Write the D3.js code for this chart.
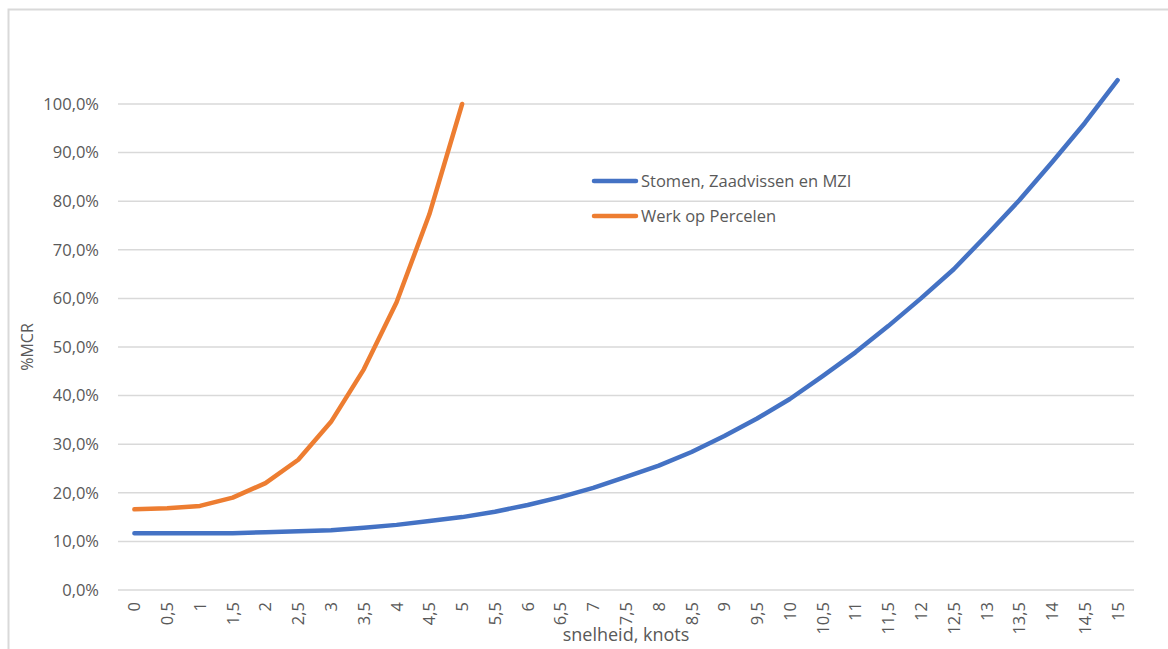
<!DOCTYPE html>
<html>
<head>
  <meta charset="utf-8">
  <title>%MCR per snelheid</title>
  <script src="https://d3js.org/d3.v7.min.js"></script>
  <style>
    body { margin: 0; background: #fff; }
    text { font-family: "Open Sans", "Noto Sans", sans-serif; fill: #595959; }
  </style>
</head>
<body>
<script>
  // data: snelheid (knots) and %MCR as fraction
  var speeds = ["0","0,5","1","1,5","2","2,5","3","3,5","4","4,5","5","5,5","6","6,5","7","7,5",
                "8","8,5","9","9,5","10","10,5","11","11,5","12","12,5","13","13,5","14","14,5","15"];
  var stomen = [0.117,0.117,0.117,0.117,0.119,0.121,0.123,0.128,0.134,0.142,0.150,0.161,0.175,0.191,0.210,0.233,
                0.256,0.284,0.317,0.353,0.393,0.440,0.489,0.543,0.600,0.660,0.730,0.802,0.880,0.961,1.049];
  var werk = [0.166,0.168,0.173,0.190,0.220,0.268,0.346,0.454,0.592,0.773,1.000];
  var seriesNames = ["Stomen, Zaadvissen en MZI", "Werk op Percelen"];
  var seriesColors = ["#4472c4", "#ed7d31"];
  var yTicks = [0,0.1,0.2,0.3,0.4,0.5,0.6,0.7,0.8,0.9,1.0];

  var width = 1168, height = 649;
  var mLeft = 118, mRight = 1134, mTop = 104, mBottom = 590;

  var svg = d3.select("body").append("svg").attr("width", width).attr("height", height);

  // chart frame
  svg.append("path")
    .attr("d", "M8.5," + height + "V9.5H" + width)
    .attr("fill", "none").attr("stroke", "#d9d9d9").attr("stroke-width", 2);

  var x = d3.scalePoint().domain(speeds).range([mLeft, mRight]).padding(0.5);
  var y = d3.scaleLinear().domain([0, 1]).range([mBottom, mTop]);

  // gridlines
  svg.append("g").selectAll("line").data(yTicks).enter().append("line")
    .attr("x1", mLeft).attr("x2", mRight)
    .attr("y1", function(d) { return y(d); }).attr("y2", function(d) { return y(d); })
    .attr("stroke", "#d9d9d9").attr("stroke-width", 1.5);

  // y labels
  var fmt = function(d) { return (d * 100).toFixed(1).replace(".", ",") + "%"; };
  svg.append("g").selectAll("text").data(yTicks).enter().append("text")
    .attr("x", 99).attr("y", function(d) { return y(d); })
    .attr("dy", "0.35em").attr("text-anchor", "end")
    .style("font-size", "16.5px")
    .text(fmt);

  // x labels (rotated)
  svg.append("g").selectAll("text").data(speeds).enter().append("text")
    .attr("transform", function(d) { return "translate(" + (x(d) + 6) + ",602) rotate(-90)"; })
    .attr("text-anchor", "end")
    .style("font-size", "16.5px")
    .text(function(d) { return d; });

  // axis titles
  svg.append("text").attr("x", 626).attr("y", 641).attr("text-anchor", "middle")
    .style("font-size", "18px").text("snelheid, knots");
  svg.append("text").attr("transform", "translate(33,347) rotate(-90)").attr("text-anchor", "middle")
    .style("font-size", "16px").text("%MCR");

  // lines
  var line = d3.line()
    .x(function(d, i) { return x(speeds[i]); })
    .y(function(d) { return y(d); });

  [stomen, werk].forEach(function(s, k) {
    svg.append("path").datum(s)
      .attr("d", line)
      .attr("fill", "none")
      .attr("stroke", seriesColors[k])
      .attr("stroke-width", 4.5)
      .attr("stroke-linejoin", "round")
      .attr("stroke-linecap", "round");
  });

  // legend
  var lg = svg.append("g").selectAll("g").data(seriesNames).enter().append("g")
    .attr("transform", function(d, i) { return "translate(594," + (181 + i * 35) + ")"; });
  lg.append("line").attr("x1", 0).attr("x2", 42)
    .attr("stroke", function(d, i) { return seriesColors[i]; })
    .attr("stroke-width", 4.5).attr("stroke-linecap", "round");
  lg.append("text").attr("x", 47).attr("dy", "0.35em")
    .style("font-size", "16.5px")
    .text(function(d) { return d; });
</script>
</body>
</html>
